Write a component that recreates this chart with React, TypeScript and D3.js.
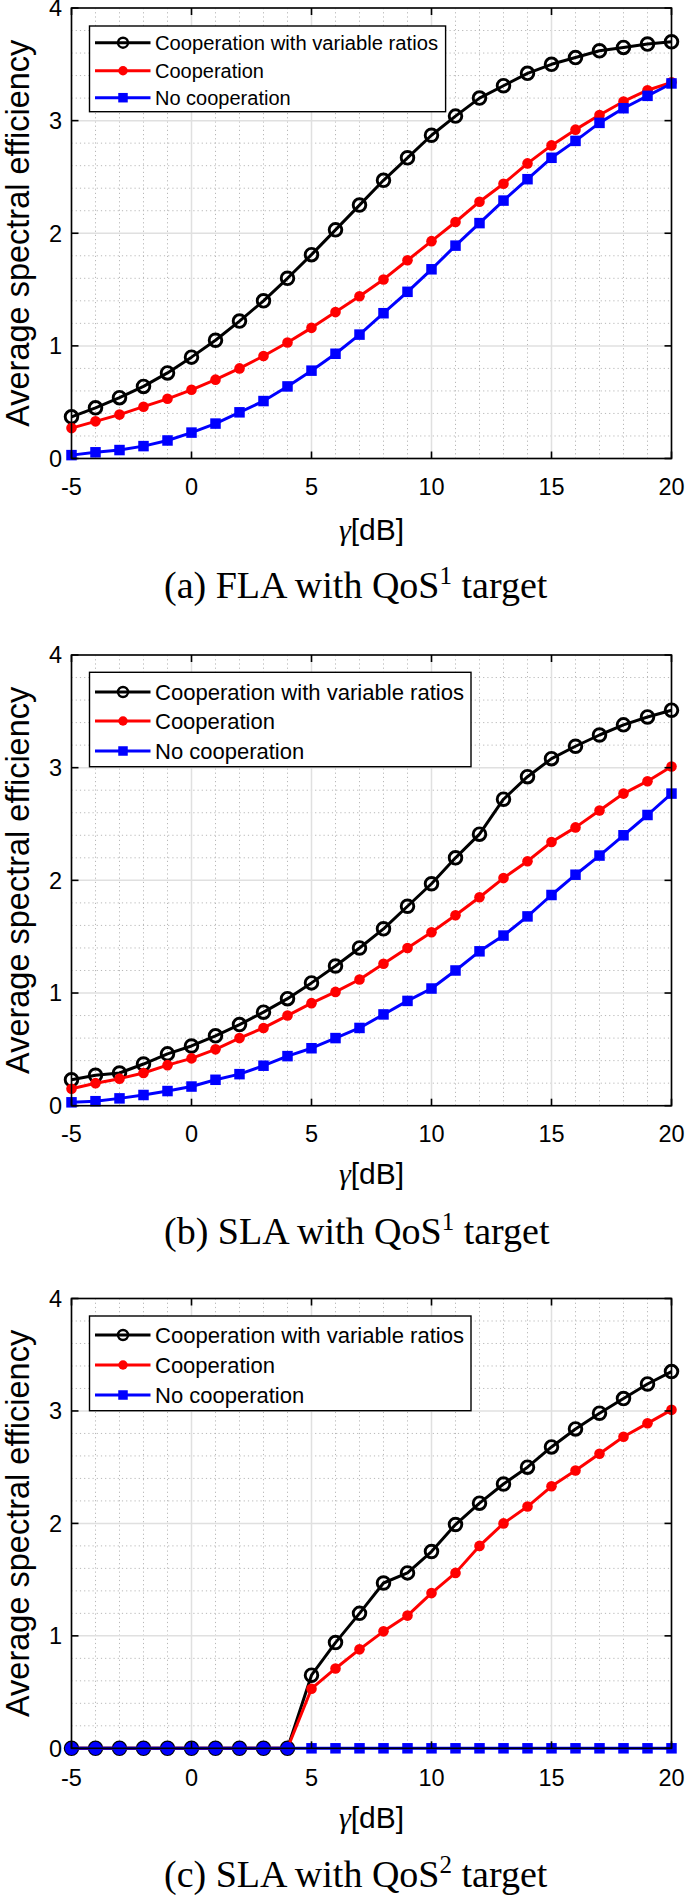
import React from 'react'
import * as d3 from 'd3'

// gamma in dB (x axis)
const GAMMA_DB = [-5, -4, -3, -2, -1, 0, 1, 2, 3, 4, 5, 6, 7, 8, 9, 10, 11, 12, 13, 14, 15, 16, 17, 18, 19, 20]
const X_TICKS = [-5, 0, 5, 10, 15, 20]
const Y_TICKS = [0, 1, 2, 3, 4]
const LEGEND_LABELS = ['Cooperation with variable ratios', 'Cooperation', 'No cooperation']
const CAPTIONS = [
  { pre: '(a) FLA with QoS', sup: '1', post: ' target' },
  { pre: '(b) SLA with QoS', sup: '1', post: ' target' },
  { pre: '(c) SLA with QoS', sup: '2', post: ' target' },
]

// (a) FLA, QoS1
const FLA1_VARIABLE = [0.37, 0.45, 0.54, 0.64, 0.76, 0.9, 1.05, 1.22, 1.4, 1.6, 1.81, 2.03, 2.25, 2.47, 2.67, 2.87, 3.04, 3.2, 3.31, 3.42, 3.5, 3.56, 3.62, 3.65, 3.68, 3.7]
const FLA1_COOP = [0.27, 0.33, 0.39, 0.46, 0.53, 0.61, 0.7, 0.8, 0.91, 1.03, 1.16, 1.3, 1.44, 1.59, 1.76, 1.93, 2.1, 2.28, 2.44, 2.62, 2.78, 2.92, 3.05, 3.17, 3.27, 3.34]
const FLA1_NOCOOP = [0.03, 0.055, 0.075, 0.11, 0.16, 0.23, 0.31, 0.41, 0.51, 0.64, 0.78, 0.93, 1.1, 1.29, 1.48, 1.68, 1.89, 2.09, 2.29, 2.48, 2.67, 2.82, 2.98, 3.11, 3.22, 3.33]

// (b) SLA, QoS1
const SLA1_VARIABLE = [0.23, 0.27, 0.29, 0.37, 0.46, 0.53, 0.62, 0.72, 0.83, 0.95, 1.09, 1.24, 1.4, 1.57, 1.77, 1.97, 2.2, 2.41, 2.72, 2.92, 3.08, 3.19, 3.29, 3.38, 3.45, 3.51]
const SLA1_COOP = [0.15, 0.2, 0.24, 0.29, 0.36, 0.42, 0.5, 0.6, 0.69, 0.8, 0.91, 1.01, 1.12, 1.26, 1.4, 1.54, 1.69, 1.85, 2.02, 2.17, 2.34, 2.47, 2.62, 2.77, 2.88, 3.01]
const SLA1_NOCOOP = [0.03, 0.04, 0.065, 0.095, 0.13, 0.17, 0.23, 0.28, 0.355, 0.44, 0.51, 0.6, 0.69, 0.81, 0.93, 1.04, 1.2, 1.37, 1.51, 1.68, 1.87, 2.05, 2.22, 2.4, 2.58, 2.77]

// (c) SLA, QoS2
const SLA2_VARIABLE = [0, 0, 0, 0, 0, 0, 0, 0, 0, 0, 0.65, 0.94, 1.2, 1.47, 1.56, 1.75, 1.99, 2.18, 2.35, 2.5, 2.68, 2.84, 2.98, 3.11, 3.24, 3.35]
const SLA2_COOP = [0, 0, 0, 0, 0, 0, 0, 0, 0, 0, 0.53, 0.71, 0.88, 1.04, 1.18, 1.38, 1.56, 1.8, 2.0, 2.15, 2.33, 2.47, 2.62, 2.77, 2.89, 3.01]
const SLA2_NOCOOP = [0, 0, 0, 0, 0, 0, 0, 0, 0, 0, 0, 0, 0, 0, 0, 0, 0, 0, 0, 0, 0, 0, 0, 0, 0, 0]
// in (c) the blue markers at the zero points up to 4 dB show up as circles
const SLA2_NOCOOP_CIRCLES_UNTIL = 4

const SANS = '"Liberation Sans", Arial, Helvetica, sans-serif'
const SERIF = '"Liberation Serif", "Times New Roman", serif'

const W = 685
const H = 1895
const plotLeft = 71.5
const plotRight = 671.5

const panels = [
  {
    series: [FLA1_VARIABLE, FLA1_COOP, FLA1_NOCOOP],
    circlesUntil: null as number | null,
    top: 8, bottom: 458.5,
    tickBase: 495, xlabBase: 540, capBase: 598,
    legend: { top: 26, right: 445.6, rowOffsets: [16.7, 44.7, 71.7], bottomOffset: 85.7, font: 20, firstWidth: 283 },
  },
  {
    series: [SLA1_VARIABLE, SLA1_COOP, SLA1_NOCOOP],
    circlesUntil: null,
    top: 655, bottom: 1105.7,
    tickBase: 1141.6, xlabBase: 1184, capBase: 1244,
    legend: { top: 672.3, right: 471, rowOffsets: [19.7, 48.7, 78.7], bottomOffset: 94.4, font: 22, firstWidth: 309 },
  },
  {
    series: [SLA2_VARIABLE, SLA2_COOP, SLA2_NOCOOP],
    circlesUntil: SLA2_NOCOOP_CIRCLES_UNTIL,
    top: 1298.5, bottom: 1748.3,
    tickBase: 1785.5, xlabBase: 1828, capBase: 1887,
    legend: { top: 1316, right: 471, rowOffsets: [19, 49, 79], bottomOffset: 94.7, font: 22, firstWidth: 309 },
  },
]

const COLORS = ['#000000', '#ff0000', '#0000ff']

function Marker({ kind, x, y, color, big }) {
  if (kind === 0) {
    return <circle cx={x} cy={y} r={big ? 6.3 : 5} fill="none" stroke={color} strokeWidth={big ? 2.9 : 2.4} />
  }
  if (kind === 1) {
    return <circle cx={x} cy={y} r={big ? 5.3 : 4.7} fill={color} />
  }
  if (kind === 3) {
    return <circle cx={x} cy={y} r={6.6} fill={color} />
  }
  const s = big ? 10.5 : 9.5
  return <rect x={x - s / 2} y={y - s / 2} width={s} height={s} fill={color} />
}

function Panel({ p, idx }) {
  const x = d3.scaleLinear().domain([-5, 20]).range([plotLeft, plotRight])
  const y = d3.scaleLinear().domain([0, 4]).range([p.bottom, p.top])
  const line = d3.line<number>().x((d, i) => x(GAMMA_DB[i])).y((d) => y(d))

  const minorX = GAMMA_DB.filter((g) => g % 5 !== 0)
  const minorY = d3.range(0.2, 4, 0.2).filter((v) => Math.abs(v - Math.round(v)) > 0.01)
  const lg = p.legend
  const lgLeft = 89.5
  const cap = CAPTIONS[idx]
  const tickLen = 7

  return (
    <g>
      {/* minor grid */}
      {minorX.map((g) => (
        <line key={'mx' + g} x1={x(g)} x2={x(g)} y1={p.top} y2={p.bottom} stroke="#b8b8b8" strokeWidth={1} strokeDasharray="1.2,3" />
      ))}
      {minorY.map((v) => (
        <line key={'my' + v} x1={plotLeft} x2={plotRight} y1={y(v)} y2={y(v)} stroke="#b8b8b8" strokeWidth={1} strokeDasharray="1.2,3" />
      ))}
      {/* major grid */}
      {X_TICKS.map((g) => (
        <line key={'gx' + g} x1={x(g)} x2={x(g)} y1={p.top} y2={p.bottom} stroke="#e0e0e0" strokeWidth={1.5} />
      ))}
      {Y_TICKS.map((v) => (
        <line key={'gy' + v} x1={plotLeft} x2={plotRight} y1={y(v)} y2={y(v)} stroke="#e0e0e0" strokeWidth={1.5} />
      ))}

      {/* series */}
      {p.series.map((s, si) => (
        <g key={'s' + si}>
          <path d={line(s)} fill="none" stroke={COLORS[si]} strokeWidth={3} strokeLinejoin="round" />
          {s.map((v, i) => {
            const kind = si === 2 && p.circlesUntil !== null && GAMMA_DB[i] <= p.circlesUntil ? 3 : si
            return <Marker key={i} kind={kind} x={x(GAMMA_DB[i])} y={y(v)} color={COLORS[si]} big />
          })}
        </g>
      ))}

      {/* axes box and ticks */}
      <rect x={plotLeft} y={p.top} width={plotRight - plotLeft} height={p.bottom - p.top} fill="none" stroke="#000" strokeWidth={1.6} />
      {X_TICKS.map((g) => (
        <g key={'tx' + g}>
          <line x1={x(g)} x2={x(g)} y1={p.bottom} y2={p.bottom - tickLen} stroke="#000" strokeWidth={1.6} />
          <line x1={x(g)} x2={x(g)} y1={p.top} y2={p.top + tickLen} stroke="#000" strokeWidth={1.6} />
          <text x={x(g)} y={p.tickBase} textAnchor="middle" fontFamily={SANS} fontSize={23.5} fill="#000">
            {g}
          </text>
        </g>
      ))}
      {Y_TICKS.map((v) => (
        <g key={'ty' + v}>
          <line x1={plotLeft} x2={plotLeft + tickLen} y1={y(v)} y2={y(v)} stroke="#000" strokeWidth={1.6} />
          <line x1={plotRight} x2={plotRight - tickLen} y1={y(v)} y2={y(v)} stroke="#000" strokeWidth={1.6} />
          <text x={62} y={y(v) + 8.4} textAnchor="end" fontFamily={SANS} fontSize={23.5} fill="#000">
            {v}
          </text>
        </g>
      ))}

      {/* axis labels */}
      <text
        transform={`translate(28.5, ${(p.top + p.bottom) / 2}) rotate(-90)`}
        textAnchor="middle"
        fontFamily={SANS}
        fontSize={32.5}
        fill="#000"
      >
        Average spectral efficiency
      </text>
      <text x={(plotLeft + plotRight) / 2} y={p.xlabBase} textAnchor="middle" fontFamily={SANS} fontSize={30} fill="#000">
        <tspan fontFamily={SERIF} fontStyle="italic">γ</tspan>[dB]
      </text>

      {/* legend */}
      <rect x={lgLeft} y={lg.top} width={lg.right - lgLeft} height={lg.bottomOffset} fill="#fff" stroke="#000" strokeWidth={1.4} />
      {LEGEND_LABELS.map((lab, li) => {
        const ry = lg.top + lg.rowOffsets[li]
        return (
          <g key={'lg' + li}>
            <line x1={95} x2={150.5} y1={ry} y2={ry} stroke={COLORS[li]} strokeWidth={3} />
            <Marker kind={li} x={123} y={ry} color={COLORS[li]} big={false} />
            <text
              x={155}
              y={ry + lg.font * 0.36}
              fontFamily={SANS}
              fontSize={lg.font}
              fill="#000"
              textLength={li === 0 ? lg.firstWidth : undefined}
              lengthAdjust={li === 0 ? 'spacingAndGlyphs' : undefined}
            >
              {lab}
            </text>
          </g>
        )
      })}

      {/* caption */}
      <text x={164} y={p.capBase} fontFamily={SERIF} fontSize={38} fill="#000">
        {cap.pre}
        <tspan fontSize={25} dy={-14}>{cap.sup}</tspan>
        <tspan dy={14}>{cap.post}</tspan>
      </text>
    </g>
  )
}

export default function App() {
  return (
    <div style={{ position: 'absolute', left: 0, top: 0, width: W, height: H, background: '#fff' }}>
      <svg width={W} height={H} viewBox={`0 0 ${W} ${H}`} style={{ display: 'block' }}>
        <rect x={0} y={0} width={W} height={H} fill="#fff" />
        {panels.map((p, i) => (
          <Panel key={i} p={p} idx={i} />
        ))}
      </svg>
    </div>
  )
}
